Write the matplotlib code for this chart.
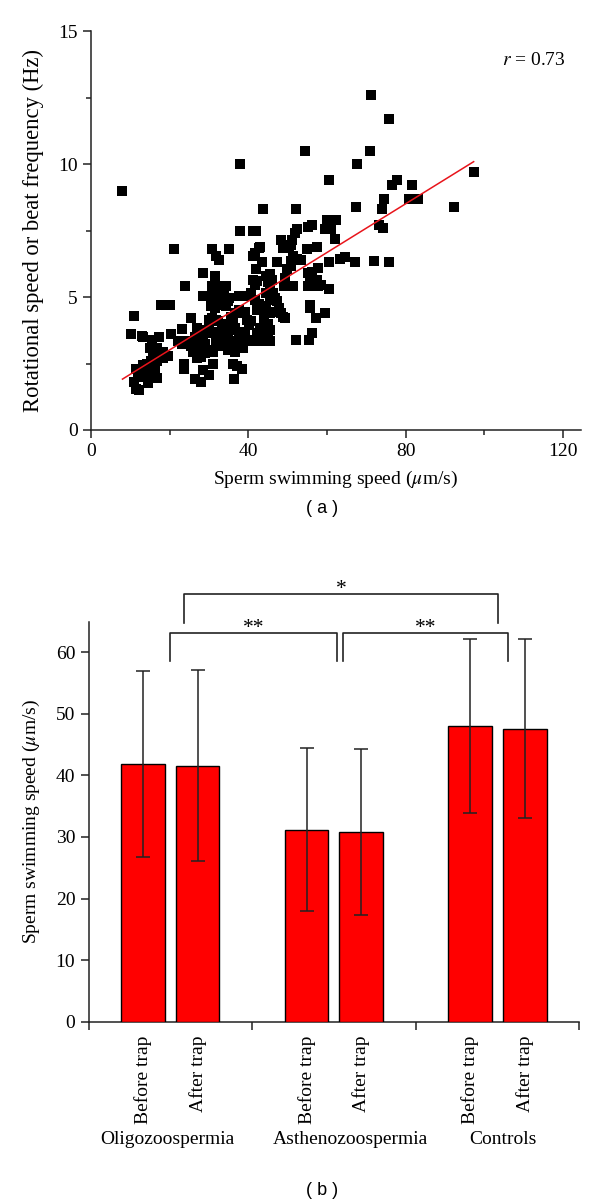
import matplotlib
matplotlib.use("Agg")
from matplotlib import pyplot as plt
from matplotlib import transforms
from matplotlib.ticker import FixedLocator, MultipleLocator

plt.rcParams["font.family"] = ["Liberation Serif", "DejaVu Serif"]
plt.rcParams["mathtext.fontset"] = "stix"

# (a) sperm swimming speed vs rotational speed / beat frequency
speed = [7.8, 10.9, 10.1, 13.0, 13.3, 11.4, 10.9, 11.4, 12.2, 14.6,
         14.3, 15.6, 14.9, 17.2, 16.9, 17.7, 20.2, 20.4, 21.1, 23.1,
         23.9, 25.3, 23.6, 23.6, 16.7, 16.3, 16.7, 18.2, 19.5, 14.3,
         13.1, 26.5, 27.9, 28.4, 29.9, 28.4, 30.7, 31.4, 31.8, 32.6,
         35.2, 37.9, 37.9, 41.1, 41.9, 43.8, 52.1, 54.5, 60.4, 67.7,
         71.3, 71.0, 75.9, 97.3, 92.4, 81.5, 76.6, 77.9, 80.8, 83.2,
         74.5, 74.0, 67.5, 73.2, 74.3, 75.9, 72.0, 67.1, 63.3, 64.7,
         60.4, 62.0, 60.1, 60.9, 62.2, 59.6, 61.1, 55.2, 56.2, 57.4,
         54.9, 52.3, 51.8, 51.1, 50.8, 48.4, 48.9, 50.3, 52.3, 53.3,
         51.3, 50.8, 49.9, 50.8, 55.2, 56.2, 57.6, 57.4, 55.7, 56.7,
         55.2, 57.6, 58.6, 60.4, 59.4, 57.2, 55.7, 55.7, 56.2, 55.5,
         52.0, 49.4, 48.7, 48.4, 47.9, 47.4, 47.2, 49.1, 50.3, 51.3,
         49.4, 43.5, 41.9, 41.1, 41.6, 42.6, 43.0, 41.1, 42.1, 41.6,
         44.5, 45.5, 45.0, 46.0, 45.5, 46.4, 46.9, 45.5, 44.5, 41.6,
         42.6, 43.5, 42.1, 44.5, 45.5, 46.4, 44.0, 45.0, 45.5, 45.0,
         44.5, 45.5, 43.0, 42.6, 43.5, 43.0, 40.6, 41.1, 39.6, 40.1,
         39.6, 40.6, 38.7, 37.7, 38.5, 39.1, 37.7, 36.7, 35.7, 36.2,
         35.2, 34.3, 33.8, 33.3, 32.8, 32.3, 31.8, 31.4, 30.7, 29.9,
         28.9, 28.4, 30.9, 31.8, 30.4, 31.4, 32.3, 33.3, 34.3, 34.8,
         35.2, 29.9, 30.7, 31.8, 32.3, 33.3, 33.8, 29.4, 29.9, 30.4,
         31.4, 31.8, 32.8, 33.8, 34.8, 35.7, 36.7, 37.7, 38.7, 39.1,
         27.0, 27.5, 26.5, 26.0, 24.1, 25.0, 25.5, 26.5, 27.0, 26.0,
         27.5, 27.9, 27.0, 28.9, 29.9, 30.9, 31.8, 32.8, 34.3, 34.8,
         35.7, 36.7, 37.7, 38.7, 36.2, 37.2, 38.5, 36.4, 30.9, 27.9,
         28.4, 28.9, 35.7, 36.7, 37.7, 22.1, 23.1, 17.2, 18.2, 15.8,
         15.3, 14.3, 13.3, 12.4, 11.9, 39.6, 40.6, 42.1, 43.0]
freq = [9.0, 4.3, 3.6, 3.55, 3.5, 2.3, 1.8, 1.55, 1.5, 1.75,
        2.25, 3.4, 3.1, 3.5, 3.1, 4.7, 4.7, 3.6, 6.8, 3.8,
        5.4, 4.2, 2.5, 2.3, 2.6, 2.25, 1.95, 2.7, 2.8, 2.05,
        2.0, 1.9, 1.8, 2.25, 2.05, 5.9, 6.8, 5.8, 6.55, 6.4,
        6.8, 10.0, 7.5, 7.5, 7.5, 8.3, 8.3, 10.5, 9.4, 10.0,
        12.6, 10.5, 11.7, 9.7, 8.4, 9.2, 9.2, 9.4, 8.7, 8.7,
        8.7, 8.3, 8.4, 7.7, 7.6, 6.3, 6.35, 6.3, 6.45, 6.5,
        6.3, 7.2, 7.9, 7.9, 7.9, 7.55, 7.55, 7.65, 7.7, 6.9,
        6.8, 7.55, 7.4, 7.15, 6.95, 7.15, 6.85, 6.9, 6.45, 6.4,
        6.55, 6.35, 6.05, 6.15, 5.9, 5.95, 6.1, 5.65, 5.55, 5.4,
        5.4, 5.4, 5.45, 5.3, 4.4, 4.2, 4.7, 4.6, 3.65, 3.4,
        3.4, 4.2, 4.25, 4.4, 4.6, 4.85, 6.3, 5.4, 5.4, 5.4,
        5.7, 6.3, 6.05, 6.55, 6.65, 6.85, 6.9, 5.65, 5.6, 5.45,
        5.8, 5.85, 5.55, 5.65, 5.3, 5.15, 4.95, 4.9, 5.15, 4.9,
        4.75, 4.65, 4.5, 4.5, 4.4, 4.45, 4.15, 4.0, 3.75, 3.45,
        3.4, 3.35, 3.35, 3.4, 3.75, 3.85, 3.4, 3.35, 3.35, 3.95,
        5.05, 5.15, 5.05, 5.05, 4.4, 4.45, 4.5, 4.4, 4.25, 4.15,
        4.0, 5.4, 5.3, 5.1, 5.4, 5.3, 5.15, 5.4, 5.4, 5.05,
        5.05, 5.05, 4.9, 4.85, 4.65, 4.6, 4.7, 4.75, 4.65, 4.85,
        4.95, 4.15, 4.2, 4.15, 4.1, 4.0, 3.95, 3.75, 3.9, 3.65,
        3.7, 3.5, 3.65, 3.5, 3.6, 3.75, 3.85, 3.65, 3.7, 3.6,
        3.85, 3.65, 3.5, 3.35, 3.35, 3.25, 3.15, 3.1, 3.0, 2.95,
        2.9, 2.75, 2.7, 2.9, 3.0, 2.95, 3.15, 3.2, 3.15, 3.0,
        3.1, 2.95, 3.15, 3.1, 2.5, 2.4, 2.3, 1.9, 2.5, 3.5,
        3.4, 3.25, 3.35, 3.25, 3.35, 3.35, 3.25, 2.9, 2.95, 2.75,
        2.6, 2.5, 2.45, 2.15, 2.0, 4.15, 4.1, 3.65, 3.5]
fit_slope = 0.0916
fit_intercept = 1.18
fit_range = [8.0, 97.3]
r_value = 0.73

# (b) swimming speed before/after the trap
groups = ["Oligozoospermia", "Asthenozoospermia", "Controls"]
conditions = ["Before trap", "After trap"]
means = [41.9, 41.6, 31.2, 30.8, 48.0, 47.6]
errors = [15.1, 15.5, 13.3, 13.5, 14.1, 14.5]
# significance brackets: (left, right, bar height, leg bottom, label)
brackets = [(1.5, 4.55, 63.1, 58.6, "**"),
            (4.67, 7.7, 63.1, 58.6, "**"),
            (1.75, 7.51, 69.4, 64.8, "*")]

fig = plt.figure(figsize=(6, 12.01), dpi=100)

# ---- panel (a)
ax1 = fig.add_axes([0.1517, 0.642, 0.816, 0.332])
ax1.scatter(speed, freq, marker="s", s=44, c="black", linewidths=0, zorder=3)
fx = fit_range
fy = [fit_intercept + fit_slope * v for v in fx]
ax1.plot(fx, fy, color="#e8141b", lw=1.1, zorder=4)
ax1.set_xlim(0, 124.5)
ax1.set_ylim(0, 15)
ax1.xaxis.set_major_locator(MultipleLocator(40))
ax1.xaxis.set_minor_locator(MultipleLocator(20))
ax1.yaxis.set_major_locator(MultipleLocator(5))
ax1.yaxis.set_minor_locator(MultipleLocator(2.5))
ax1.text(120.6, 13.9, r"$r$ = %.2f" % r_value, ha="right", va="center", fontsize=14)
ax1.set_xlabel(r"Sperm swimming speed ($\mu$m/s)", fontsize=14, labelpad=6)
ax1.set_ylabel("Rotational speed or beat frequency (Hz)", fontsize=16.3, labelpad=10)

# ---- panel (b)
ax2 = fig.add_axes([0.1475, 0.1493, 0.818, 0.3332])
positions = [3 * g + 1 + c for g in range(len(groups)) for c in range(len(conditions))]
ax2.bar(positions, means, width=0.8, color="#ff0000", edgecolor="black", linewidth=1,
        yerr=errors, capsize=5,
        error_kw=dict(elinewidth=1.1, capthick=1.1, ecolor="#222222"), zorder=3)
ax2.set_xlim(0, 9)
ax2.set_ylim(0, 65)
ax2.yaxis.set_major_locator(MultipleLocator(10))
ax2.xaxis.set_major_locator(FixedLocator([0, 3, 6, 9]))
ax2.xaxis.set_major_formatter(plt.NullFormatter())
ax2.xaxis.set_minor_locator(FixedLocator(positions))
ax2.set_xticklabels(conditions * len(groups), minor=True, rotation=90, fontsize=14)
ax2.set_ylabel(r"Sperm swimming speed ($\mu$m/s)", fontsize=14, labelpad=10)

trans = transforms.blended_transform_factory(ax2.transData, ax2.transAxes)
group_label_x = [1.45, 4.8, 7.6]
for gx, name in zip(group_label_x, groups):
    ax2.text(gx, -0.295, name, transform=trans, ha="center", va="center", fontsize=14)

for x0, x1, yb, yl, label in brackets:
    ax2.plot([x0, x0, x1, x1], [yl, yb, yb, yl], color="#222222", lw=1.2,
             clip_on=False, zorder=4)
    ax2.text((x0 + x1) / 2, yb + 0.1, label, ha="center", va="baseline",
             fontsize=15.5, clip_on=False)

for ax in (ax1, ax2):
    ax.spines["top"].set_visible(False)
    ax.spines["right"].set_visible(False)
    for s in ("left", "bottom"):
        ax.spines[s].set_linewidth(1.1)
        ax.spines[s].set_color("#222222")
    ax.tick_params(which="major", direction="out", length=6, width=1.1, labelsize=14,
                   color="#222222")
    ax.tick_params(which="minor", direction="out", width=1.1, color="#222222")
ax1.tick_params(which="minor", length=3.5)
ax2.tick_params(axis="x", which="minor", length=0, pad=10)

fig.text(0.537, 0.577, "( a )", ha="center", va="center", fontsize=13,
         family=["Liberation Sans", "DejaVu Sans"])
fig.text(0.537, 0.009, "( b )", ha="center", va="center", fontsize=13,
         family=["Liberation Sans", "DejaVu Sans"])

fig.savefig("out.png", dpi=100)
